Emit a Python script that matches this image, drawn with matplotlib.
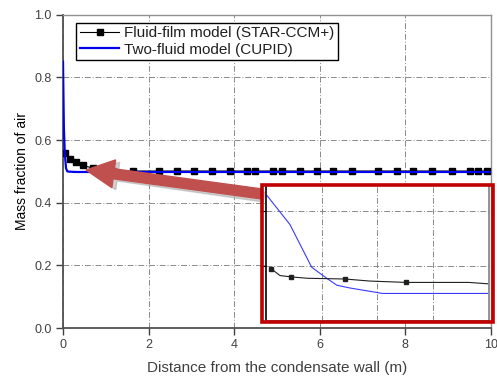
import numpy as np
import matplotlib
matplotlib.use('Agg')
import matplotlib.pyplot as plt
from matplotlib.patches import Rectangle, FancyArrow

plt.rcParams['font.family'] = ['Liberation Sans', 'DejaVu Sans']

# main plot data
film_x = [0.05, 0.16, 0.30, 0.47, 0.70, 1.17, 1.64, 2.24, 2.66, 3.06, 3.48, 3.90, 4.30, 4.49,
          4.91, 5.12, 5.54, 5.93, 6.31, 6.75, 7.36, 7.80, 8.18, 8.62, 9.09, 9.51, 9.70, 9.91]
film_y = [0.558, 0.541, 0.530, 0.519, 0.510, 0.502, 0.501, 0.501, 0.501, 0.501, 0.501, 0.501,
          0.501, 0.501, 0.501, 0.501, 0.501, 0.501, 0.501, 0.501, 0.501, 0.501, 0.501, 0.501,
          0.501, 0.501, 0.501, 0.501]
cupid_x = [0.0, 0.01, 0.02, 0.04, 0.07, 0.10, 0.15, 0.30, 10.0]
cupid_y = [0.85, 0.74, 0.64, 0.56, 0.51, 0.500, 0.499, 0.498, 0.498]

# zoomed inset data (inset units)
in_film_x = [0.009, 0.025, 0.045, 0.075, 0.141, 0.186, 0.252, 0.30, 0.364, 0.398]
in_film_y = [0.518, 0.513, 0.512, 0.511, 0.5105, 0.509, 0.508, 0.508, 0.508, 0.507]
in_film_mk = [0, 2, 4, 6]
in_cupid_x = [0.002, 0.043, 0.082, 0.109, 0.127, 0.150, 0.209, 0.263, 0.398]
in_cupid_y = [0.571, 0.550, 0.519, 0.511, 0.506, 0.504, 0.500, 0.500, 0.500]

xticks = [0, 2, 4, 6, 8, 10]
yticks = [0.0, 0.2, 0.4, 0.6, 0.8, 1.0]

grid_ls = (0, (6, 2, 1, 2))
txt_col = '#404040'

fig = plt.figure(figsize=(4.97, 3.81), dpi=100)
ax = fig.add_axes([0.1268, 0.1391, 0.8612, 0.8223])

ax.plot(film_x, film_y, color='black', lw=0.8, marker='s', ms=4.3, label='Fluid-film model (STAR-CCM+)', zorder=3)
ax.plot(cupid_x, cupid_y, color='#0000ee', lw=1.6, label='Two-fluid model (CUPID)', zorder=4)

ax.set_xlim(0, 10)
ax.set_ylim(0, 1.0)
ax.set_xticks(xticks)
ax.set_yticks(yticks)
ax.set_xticklabels([str(t) for t in xticks])
ax.set_yticklabels(['%.1f' % t for t in yticks])
ax.tick_params(direction='out', length=5, width=1.0, colors=txt_col, labelsize=9, pad=3)
ax.grid(True, color='#8a8a8a', lw=0.7, ls=grid_ls)
for s in ['left', 'bottom']:
    ax.spines[s].set_color('#505050')
    ax.spines[s].set_linewidth(1.3)
for s in ['top', 'right']:
    ax.spines[s].set_color('#909090')
    ax.spines[s].set_linewidth(1.0)

ax.set_xlabel('Distance from the condensate wall (m)', fontsize=11, color=txt_col, labelpad=7)
ax.set_ylabel('Mass fraction of air', fontsize=10, color='black', labelpad=4)

leg = ax.legend(loc='upper left', bbox_to_anchor=(0.03, 0.975), borderaxespad=0, fontsize=11,
                handlelength=2.6, handletextpad=0.3, borderpad=0.25, labelspacing=0.15,
                fancybox=False, edgecolor='black', framealpha=1)
leg.get_frame().set_linewidth(1.0)
for t in leg.get_texts():
    t.set_color('#202020')

# arrow pointing from the zoom box to the knee of the curves
sh = FancyArrow(2.64, 1.84, -1.74, 0.25, width=0.1, head_width=0.28, head_length=0.28,
                length_includes_head=True, transform=fig.dpi_scale_trans,
                color='#b0b0b0', alpha=0.6, zorder=1)
arr = FancyArrow(2.62, 1.87, -1.76, 0.24, width=0.1, head_width=0.28, head_length=0.28,
                 length_includes_head=True, transform=fig.dpi_scale_trans,
                 color='#c0504d', zorder=1.1)
fig.add_artist(sh)
fig.add_artist(arr)

# inset
ins = fig.add_axes([0.5352, 0.1575, 0.4487, 0.3543], zorder=2)
ins.plot(in_cupid_x, in_cupid_y, color='#3a3aff', lw=0.8)
ins.plot(in_film_x, in_film_y, color='#202020', lw=0.8, marker='s', ms=3, markevery=in_film_mk)
ins.set_xlim(0, 0.4)
ins.set_ylim(0.48, 0.578)
ins.set_xticks([0.1, 0.2, 0.3])
ins.set_yticks([0.52, 0.56])
ins.tick_params(direction='out', length=4, labelbottom=False, labelleft=False, colors='black')
ins.tick_params(axis='x', length=0)
ins.grid(True, color='#8a8a8a', lw=0.7, ls=grid_ls)
ins.spines['left'].set_color('black')
ins.spines['bottom'].set_color('#606060')
ins.spines['right'].set_color('#808080')
ins.spines['top'].set_visible(False)
for s in ['left', 'bottom', 'right']:
    ins.spines[s].set_linewidth(1.2)

box = Rectangle((0.527, 0.1549), 0.4648, 0.3596, transform=fig.transFigure, fill=False,
                edgecolor='#c00000', lw=2.6, zorder=5)
fig.add_artist(box)

fig.savefig('out.png', dpi=100)
